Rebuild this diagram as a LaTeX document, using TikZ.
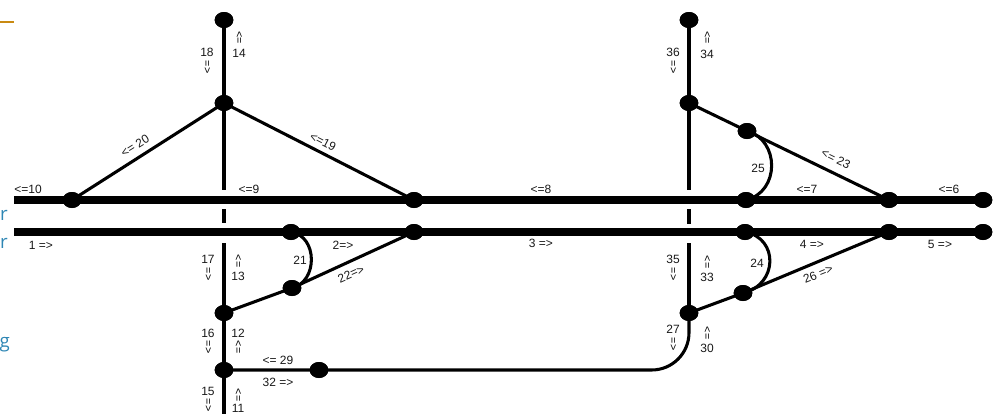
\documentclass[tikz,border=0pt]{standalone}
\usepackage{fontspec}
\setmainfont{Liberation Sans}
\newfontfamily\slidefont{Open Sans}
\usetikzlibrary{shapes.geometric}
\definecolor{slideblue}{HTML}{2E86B4}
\definecolor{slideorange}{HTML}{C98A12}
\begin{document}
\begin{tikzpicture}[x=0.75pt,y=-0.75pt,
  dot/.style={ellipse,fill=black,inner sep=0pt,minimum width=14pt,minimum height=12pt},
  track/.style={line width=6pt},
  branch/.style={line width=2.3pt},
  stem/.style={line width=3pt},
  lbl/.style={font=\fontsize{9}{10}\selectfont,inner sep=0pt,text=black!90},
  downarr/.style={font=\fontsize{8}{8}\selectfont,inner sep=0pt,rotate=-90},
  uparr/.style={font=\fontsize{8}{8}\selectfont,inner sep=0pt,rotate=-90},
  frag/.style={font=\slidefont\fontsize{14}{16}\selectfont,text=slideblue,inner sep=0pt}]
\useasboundingbox (0,0) rectangle (993,414);

% free ends of the lines
\coordinate (tw) at (14,200);
\coordinate (bw) at (14,232);
\coordinate (la) at (224,190);
\coordinate (lb) at (224,209);
\coordinate (lc) at (224,223);
\coordinate (ld) at (224,243);
\coordinate (le) at (224,414);
\coordinate (ra) at (689,190);
\coordinate (rb) at (689,209);
\coordinate (rc) at (689,224);
\coordinate (rd) at (689,243);

% junction dots
\node[dot] (nA) at (224,20) {};
\node[dot] (nB) at (224,103) {};
\node[dot] (nC) at (72,200) {};
\node[dot] (nD) at (414,200) {};
\node[dot] (nE) at (291,232) {};
\node[dot] (nF) at (414,232) {};
\node[dot] (nG) at (292,288) {};
\node[dot] (nH) at (224,313) {};
\node[dot] (nI) at (224,370) {};
\node[dot] (nJ) at (319,370) {};
\node[dot] (nK) at (689,20) {};
\node[dot] (nL) at (689,103) {};
\node[dot] (nM) at (747,131) {};
\node[dot] (nN) at (746,200) {};
\node[dot] (nO) at (889,200) {};
\node[dot] (nP) at (983,200) {};
\node[dot] (nQ) at (745,232) {};
\node[dot] (nR) at (889,232) {};
\node[dot] (nS) at (983,232) {};
\node[dot] (nT) at (743,293) {};
\node[dot] (nU) at (689,313) {};

% main tracks
\draw[track] (tw) -- (nP.center);
\draw[track] (bw) -- (nS.center);

% left crossing road
\draw[stem] (nA.center) -- (la);
\draw[stem] (lb) -- (lc);
\draw[stem] (ld) -- (le);
\draw[branch] (nB.center) -- (nC.center);
\draw[branch] (nB.center) -- (nD.center);
\draw[branch] (nE.center) .. controls (318,236) and (318,282) .. (nG.center);
\draw[branch] (nH.center) -- (nG.center) -- (nF.center);
\draw[branch,rounded corners=28pt] (nI.center) -| (nU.center);

% right crossing road
\draw[stem] (nK.center) -- (ra);
\draw[stem] (rb) -- (rc);
\draw[stem] (rd) -- (nU.center);
\draw[branch] (nL.center) -- (nM.center) -- (nO.center);
\draw[branch] (nM.center) .. controls (780,140) and (780,192) .. (nN.center);
\draw[branch] (nQ.center) .. controls (779,238) and (778,285) .. (nT.center);
\draw[branch] (nU.center) -- (nT.center) -- (nR.center);

% redraw dots on top
\foreach \n in {nA,nB,nC,nD,nE,nF,nG,nH,nI,nJ,nK,nL,nM,nN,nO,nP,nQ,nR,nS,nT,nU}
  \fill (\n.center) ellipse [x radius=7pt,y radius=6pt];

% track labels
\node[lbl] (t10) at (28,189) {<=10};
\node[lbl] (t9) at (249,189) {<=9};
\node[lbl] (t8) at (541,189) {<=8};
\node[lbl] (t7) at (807,189) {<=7};
\node[lbl] (t6) at (949,189) {<=6};
\node[lbl] (t1) at (41,245) {1 =>};
\node[lbl] (t2) at (343,245) {2=>};
\node[lbl] (t3) at (541,243) {3 =>};
\node[lbl] (t4) at (812,244) {4 =>};
\node[lbl] (t5) at (940,244) {5 =>};

% ramp labels
\node[lbl,rotate=32] (t20) at (135,146) {<= 20};
\node[lbl,rotate=-27] (t19) at (323,142) {<=19};
\node[lbl,rotate=-26] (t23) at (836,159) {<= 23};
\node[lbl,rotate=24] (t22) at (351,274) {22=>};
\node[lbl,rotate=22] (t26) at (818,274) {26 =>};
\node[lbl] (t21) at (300,260) {21};
\node[lbl] (t25) at (758,168) {25};
\node[lbl] (t24) at (757,263) {24};
\node[lbl] (t29) at (278,360) {<= 29};
\node[lbl] (t32) at (278,382) {32 =>};

% left road labels
\node[lbl] (t18) at (207,52) {18};
\node[downarr] (d18) at (207,67) {=>};
\node[uparr] (u14) at (239,38) {<=};
\node[lbl] (t14) at (239,53) {14};
\node[lbl] (t17) at (208,259) {17};
\node[downarr] (d17) at (208,274) {=>};
\node[uparr] (u13) at (238,261) {<=};
\node[lbl] (t13) at (238,276) {13};
\node[lbl] (t16) at (208,333) {16};
\node[downarr] (d16) at (208,347) {=>};
\node[lbl] (t12) at (238,333) {12};
\node[uparr] (u12) at (238,347) {<=};
\node[lbl] (t15) at (208,391) {15};
\node[downarr] (d15) at (208,405) {=>};
\node[uparr] (u11) at (238,395) {<=};
\node[lbl] (t11) at (238,408) {11};

% right road labels
\node[lbl] (t36) at (673,52) {36};
\node[downarr] (d36) at (673,67) {=>};
\node[uparr] (u34) at (707,38) {<=};
\node[lbl] (t34) at (707,54) {34};
\node[lbl] (t35) at (673,259) {35};
\node[downarr] (d35) at (673,274) {=>};
\node[uparr] (u33) at (707,262) {<=};
\node[lbl] (t33) at (707,277) {33};
\node[lbl] (t27) at (673,329) {27};
\node[downarr] (d27) at (673,344) {=>};
\node[uparr] (u30) at (707,333) {<=};
\node[lbl] (t30) at (707,348) {30};

% slide remnants at the left edge
\draw[slideorange,line width=1.5pt] (0,22) -- (14,22);
\node[frag,anchor=base east] (f1) at (8,220) {r};
\node[frag,anchor=base east] (f2) at (8,248) {r};
\node[frag,anchor=base east] (f3) at (10,347) {g};
\end{tikzpicture}
\end{document}
